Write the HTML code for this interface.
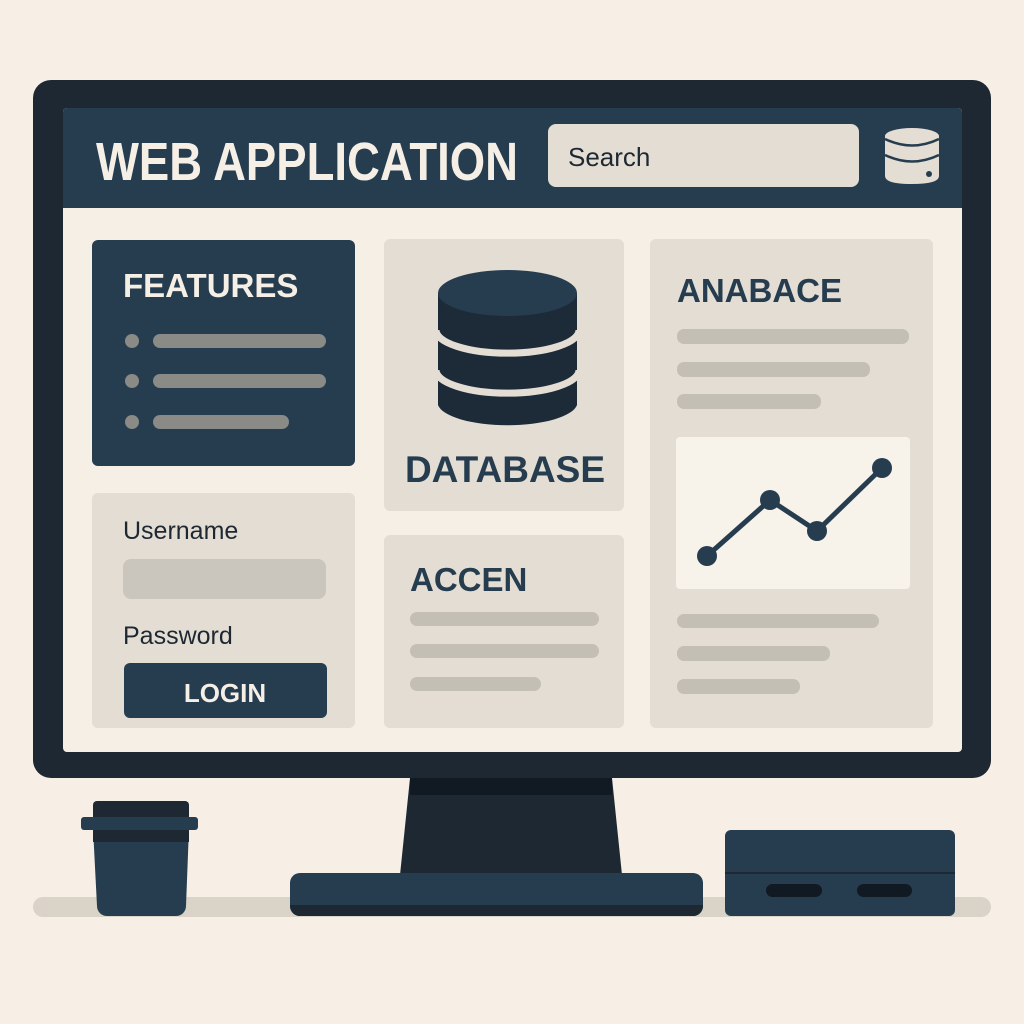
<!DOCTYPE html>
<html><head><meta charset="utf-8"><style>
html,body{margin:0;padding:0;background:#f7efe6}
svg{display:block}
text{font-family:"Liberation Sans",sans-serif}
</style></head><body>
<svg width="1024" height="1024" viewBox="0 0 1024 1024" xmlns="http://www.w3.org/2000/svg">
<rect width="1024" height="1024" fill="#f7efe6"/>
<rect x="33" y="897" width="958" height="20" rx="10" fill="#d9d3c8"/>
<rect x="33" y="80" width="958" height="698" rx="18" fill="#1d2833"/>
<rect x="63" y="108" width="899" height="644" rx="4" fill="#f5efe6"/>
<path d="M63 112 a4 4 0 0 1 4 -4 H958 a4 4 0 0 1 4 4 V208 H63 Z" fill="#263d50"/>
<text x="96" y="180" font-size="54" font-weight="bold" fill="#f5efe6" textLength="422" lengthAdjust="spacingAndGlyphs">WEB APPLICATION</text>
<rect x="548" y="124" width="311" height="63" rx="8" fill="#e4ddd3"/>
<text x="568" y="166" font-size="26" fill="#1d2833">Search</text>
<!-- small db icon -->
<path d="M885 136 V176 Q885 184 912 184 Q939 184 939 176 V136 Z" fill="#e4ddd3"/>
<ellipse cx="912" cy="136" rx="27" ry="8" fill="#e4ddd3"/>
<g fill="none" stroke="#263d50" stroke-width="2.5">
<path d="M885 139 Q912 152 939 139"/>
<path d="M885 155 Q912 168 939 155"/>
</g>
<circle cx="929" cy="174" r="3" fill="#263d50"/>
<!-- features -->
<rect x="92" y="240" width="263" height="226" rx="6" fill="#263d50"/>
<text x="123" y="297" font-size="33" font-weight="bold" fill="#f5efe6">FEATURES</text>
<g fill="#8a8a86">
<circle cx="132" cy="341" r="7"/><circle cx="132" cy="381" r="7"/><circle cx="132" cy="422" r="7"/>
<rect x="153" y="334" width="173" height="14" rx="7"/>
<rect x="153" y="374" width="173" height="14" rx="7"/>
<rect x="153" y="415" width="136" height="14" rx="7"/>
</g>
<rect x="92" y="493" width="263" height="235" rx="6" fill="#e4ddd3"/>
<text x="123" y="539" font-size="25" fill="#1d2833">Username</text>
<rect x="123" y="559" width="203" height="40" rx="8" fill="#cbc6bd"/>
<text x="123" y="644" font-size="25" fill="#1d2833">Password</text>
<rect x="124" y="663" width="203" height="55" rx="6" fill="#263d50"/>
<text x="225" y="702" font-size="26" font-weight="bold" fill="#f5efe6" text-anchor="middle">LOGIN</text>
<rect x="384" y="239" width="240" height="272" rx="6" fill="#e4ddd3"/>
<path d="M438 293 V405 A70 23 0 0 0 577 405 V293 Z" fill="#1d2b38"/>
<g fill="none" stroke="#e4ddd3" stroke-width="7">
<path d="M436 330 A71 23 0 0 0 579 330"/>
<path d="M436 370 A71 23 0 0 0 579 370"/>
</g>
<ellipse cx="507.5" cy="293" rx="69.5" ry="23" fill="#263d50"/>
<text x="505" y="482" font-size="37" font-weight="bold" fill="#263d50" text-anchor="middle">DATABASE</text>
<rect x="384" y="535" width="240" height="193" rx="6" fill="#e4ddd3"/>
<text x="410" y="591" font-size="33" font-weight="bold" fill="#263d50">ACCEN</text>
<g fill="#c4bfb5">
<rect x="410" y="612" width="189" height="14" rx="7"/>
<rect x="410" y="644" width="189" height="14" rx="7"/>
<rect x="410" y="677" width="131" height="14" rx="7"/>
</g>
<rect x="650" y="239" width="283" height="489" rx="6" fill="#e4ddd3"/>
<text x="677" y="302" font-size="33" font-weight="bold" fill="#263d50">ANABACE</text>
<g fill="#c4bfb5">
<rect x="677" y="329" width="232" height="15" rx="7"/>
<rect x="677" y="362" width="193" height="15" rx="7"/>
<rect x="677" y="394" width="144" height="15" rx="7"/>
<rect x="677" y="614" width="202" height="14" rx="7"/>
<rect x="677" y="646" width="153" height="15" rx="7"/>
<rect x="677" y="679" width="123" height="15" rx="7"/>
</g>
<rect x="676" y="437" width="234" height="152" rx="4" fill="#f7f2ea"/>
<polyline points="707,556 770,500 817,531 882,468" fill="none" stroke="#263d50" stroke-width="5"/>
<g fill="#263d50"><circle cx="707" cy="556" r="10"/><circle cx="770" cy="500" r="10"/><circle cx="817" cy="531" r="10"/><circle cx="882" cy="468" r="10"/></g>
<polygon points="410,778 612,778 622,875 400,875" fill="#1d2833"/>
<rect x="410" y="778" width="202" height="17" fill="#111a22"/>
<rect x="290" y="873" width="413" height="43" rx="10" fill="#263d50"/>
<path d="M290 905 H703 V906 a10 10 0 0 1 -10 10 H300 a10 10 0 0 1 -10 -10 Z" fill="#1d2833"/>
<rect x="93" y="801" width="96" height="20" rx="4" fill="#1d2833"/>
<polygon points="93,828 189,828 186,906 97,906" fill="#263d50"/>
<path d="M97 900 H186 V906 a10 10 0 0 1 -10 10 H107 a10 10 0 0 1 -10 -10Z" fill="#263d50"/>
<rect x="93" y="830" width="96" height="12" fill="#1d2833"/>
<rect x="81" y="817" width="117" height="13" rx="3" fill="#263d50"/>
<rect x="725" y="830" width="230" height="86" rx="6" fill="#263d50"/>
<rect x="725" y="872" width="230" height="2" fill="#1d2833"/>
<rect x="766" y="884" width="56" height="13" rx="6.5" fill="#111a22"/>
<rect x="857" y="884" width="55" height="13" rx="6.5" fill="#111a22"/>
</svg>
</body></html>
